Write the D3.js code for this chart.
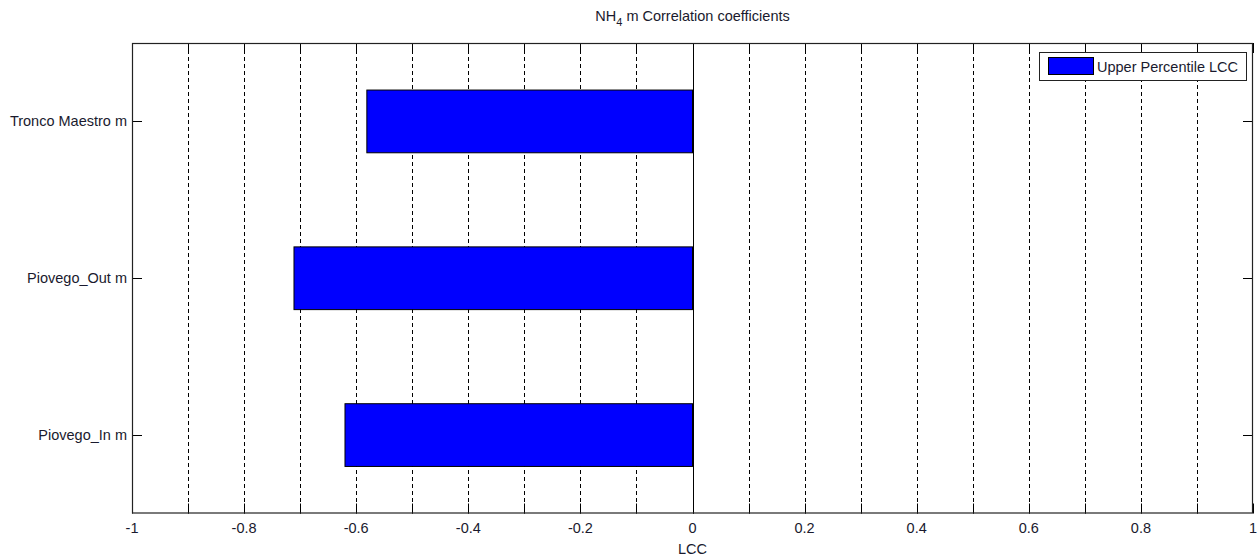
<!DOCTYPE html>
<html>
<head>
<meta charset="utf-8">
<script src="https://cdn.jsdelivr.net/npm/d3@7"></script>
<style>
  body { margin: 0; background: #fff; }
  text { font-family: "Liberation Sans", Arial, sans-serif; fill: #1a1a2e; }
</style>
</head>
<body>
<svg id="chart" width="1258" height="558"></svg>
<script>
// Correlation coefficients per station (bottom to top)
const categories = ["Piovego_In m", "Piovego_Out m", "Tronco Maestro m"];
const lccValues = [-0.62, -0.711, -0.581];
const xTicks = [-1, -0.9, -0.8, -0.7, -0.6, -0.5, -0.4, -0.3, -0.2, -0.1, 0,
                0.1, 0.2, 0.3, 0.4, 0.5, 0.6, 0.7, 0.8, 0.9, 1];
const xTickLabels = ["-1", "", "-0.8", "", "-0.6", "", "-0.4", "", "-0.2", "", "0",
                     "", "0.2", "", "0.4", "", "0.6", "", "0.8", "", "1"];
const seriesName = "Upper Percentile LCC";

const svg = d3.select("#chart");
const L = 132, R = 1253, T = 43, B = 513.5;
const fs = 14.5;

const x = d3.scaleLinear().domain([-1, 1]).range([L, R]);
// categories sit at 1..3 with half-step padding, first one at the bottom
const y = d3.scaleLinear().domain([0.5, categories.length + 0.5]).range([B, T]);
const barWidth = 0.4;

// dashed vertical grid
svg.append("g").selectAll("line").data(xTicks.filter(d => d > -1 && d < 1)).join("line")
  .attr("x1", d => Math.round(x(d)) + 0.5).attr("x2", d => Math.round(x(d)) + 0.5)
  .attr("y1", T).attr("y2", B)
  .attr("stroke", "#000").attr("stroke-width", 1).attr("stroke-dasharray", "4,3");

// bars
svg.append("g").selectAll("rect").data(lccValues).join("rect")
  .attr("x", d => x(Math.min(0, d)))
  .attr("width", d => Math.abs(x(d) - x(0)))
  .attr("y", (d, i) => y(i + 1 + barWidth / 2))
  .attr("height", (d, i) => y(i + 1 - barWidth / 2) - y(i + 1 + barWidth / 2))
  .attr("fill", "#0000ff").attr("stroke", "#000").attr("stroke-width", 1);

// baseline at zero
svg.append("line")
  .attr("x1", Math.round(x(0)) + 0.5).attr("x2", Math.round(x(0)) + 0.5)
  .attr("y1", T).attr("y2", B).attr("stroke", "#000").attr("stroke-width", 1);

// x ticks (bottom and top, inward)
const tickLen = 10;
const xt = svg.append("g");
xt.selectAll("line.b").data(xTicks).join("line").attr("class", "b")
  .attr("x1", d => Math.round(x(d)) + 0.5).attr("x2", d => Math.round(x(d)) + 0.5)
  .attr("y1", B).attr("y2", B - tickLen).attr("stroke", "#000");
xt.selectAll("line.t").data(xTicks).join("line").attr("class", "t")
  .attr("x1", d => Math.round(x(d)) + 0.5).attr("x2", d => Math.round(x(d)) + 0.5)
  .attr("y1", T).attr("y2", T + tickLen).attr("stroke", "#000");
xt.selectAll("text").data(xTicks).join("text")
  .attr("x", d => x(d)).attr("y", 533)
  .attr("text-anchor", "middle").attr("font-size", fs)
  .text((d, i) => xTickLabels[i]);

// y ticks (left and right, inward) and labels
const yt = svg.append("g");
const yIdx = categories.map((c, i) => i + 1);
yt.selectAll("line.l").data(yIdx).join("line").attr("class", "l")
  .attr("x1", L).attr("x2", L + tickLen)
  .attr("y1", d => Math.round(y(d)) + 0.5).attr("y2", d => Math.round(y(d)) + 0.5)
  .attr("stroke", "#000");
yt.selectAll("line.r").data(yIdx).join("line").attr("class", "r")
  .attr("x1", R).attr("x2", R - tickLen)
  .attr("y1", d => Math.round(y(d)) + 0.5).attr("y2", d => Math.round(y(d)) + 0.5)
  .attr("stroke", "#000");
yt.selectAll("text").data(categories).join("text")
  .attr("x", L - 5).attr("y", (d, i) => y(i + 1))
  .attr("dy", "0.35em").attr("text-anchor", "end").attr("font-size", fs)
  .text(d => d);

// frame
svg.append("rect").attr("x", L + 0.5).attr("y", T + 0.5)
  .attr("width", R - L - 1).attr("height", B - T - 1)
  .attr("fill", "none").attr("stroke", "#222").attr("stroke-width", 1.2);

// axis label
svg.append("text").attr("x", x(0)).attr("y", 554)
  .attr("text-anchor", "middle").attr("font-size", fs).text("LCC");

// title with subscript
const title = svg.append("text").attr("x", (L + R) / 2).attr("y", 21)
  .attr("text-anchor", "middle").attr("font-size", fs);
title.append("tspan").text("NH");
title.append("tspan").attr("dy", 5).attr("font-size", 11).text("4");
title.append("tspan").attr("dy", -5).text(" m Correlation coefficients");

// legend
const lg = svg.append("g");
lg.append("rect").attr("x", 1039.5).attr("y", 52.5).attr("width", 207).attr("height", 28)
  .attr("fill", "#fff").attr("stroke", "#222").attr("stroke-width", 1);
lg.append("rect").attr("x", 1048.5).attr("y", 57.5).attr("width", 45).attr("height", 17)
  .attr("fill", "#0000ff").attr("stroke", "#000");
lg.append("text").attr("x", 1097).attr("y", 66.5).attr("dy", "0.35em")
  .attr("font-size", fs).text(seriesName);
</script>
</body>
</html>
